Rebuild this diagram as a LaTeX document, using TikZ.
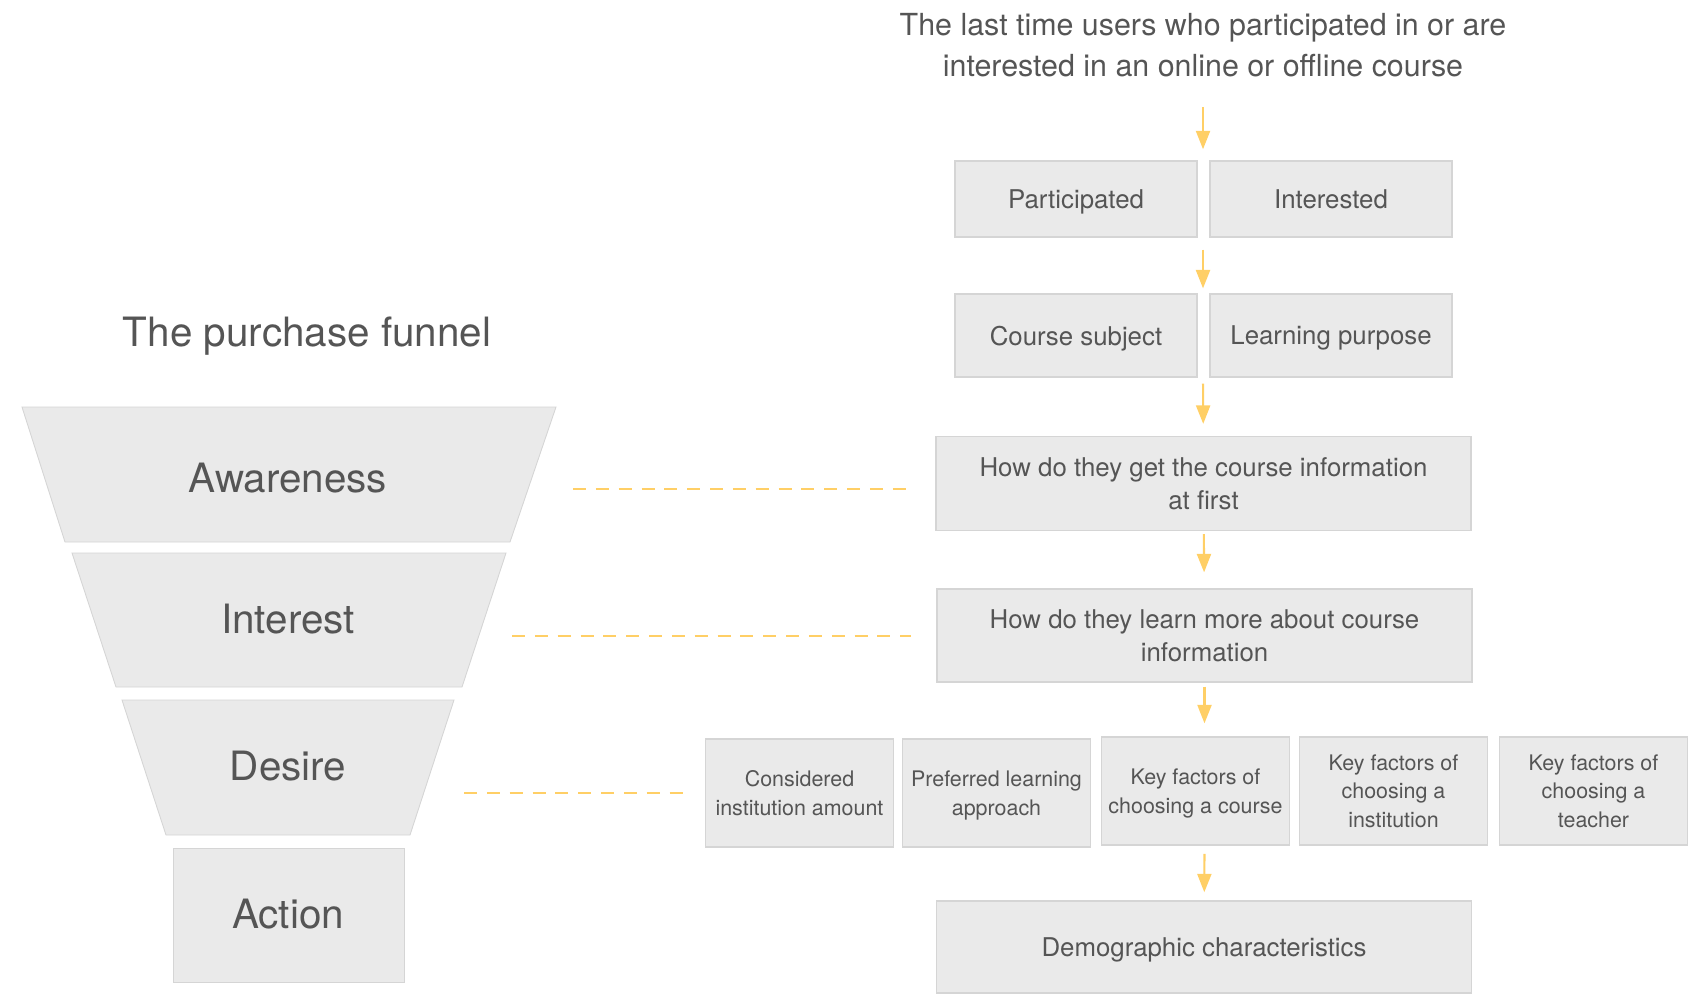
\documentclass[tikz,border=0pt]{standalone}
\usepackage{fontspec}
\setmainfont{TeX Gyre Heros}
\usetikzlibrary{arrows.meta}
\definecolor{boxfill}{HTML}{EAEAEA}
\definecolor{boxline}{HTML}{D5D5D5}
\definecolor{txt}{HTML}{555555}
\definecolor{flow}{HTML}{FFCF66}
\tikzset{
  box/.style={draw=boxline, line width=0.8pt, fill=boxfill, text=txt, inner sep=0pt,
    minimum width=4.84cm, minimum height=1.52cm, align=center, text depth=0pt,
    font=\fontsize{14.7}{18.7}\selectfont},
  wide/.style={box, minimum width=10.7cm, minimum height=1.88cm},
  small/.style={box, minimum width=3.76cm, minimum height=2.16cm,
    font=\fontsize{12.2}{16.2}\selectfont},
  funnel/.style={fill=boxfill, draw=boxline, line width=0.5pt},
  stage/.style={text=txt, inner sep=0pt, font=\fontsize{23}{28}\selectfont},
  arr/.style={draw=flow, line width=1.2pt, -{Triangle[length=10.5pt,width=8pt]}},
  link/.style={draw=flow, line width=1.6pt, dash pattern=on 7.4pt off 5.6pt},
}
\begin{document}
\begin{tikzpicture}[x=0.02cm,y=-0.02cm]
\useasboundingbox (0,0) rectangle (1702,1006);
% funnel
\node[stage] (funnelhead) at (307,336) {The purchase funnel};
\filldraw[funnel] (22,407) -- (556,407) -- (510,542) -- (65,542) -- cycle;
\filldraw[funnel] (72,553) -- (506,553) -- (462,687) -- (116,687) -- cycle;
\filldraw[funnel] (122,700) -- (454,700) -- (410,835) -- (166,835) -- cycle;
\filldraw[funnel] (173,848) rectangle (404,982);
\node[stage] (aware) at (288,478) {Awareness};
\node[stage] (interest) at (288,619) {Interest};
\node[stage] (desire) at (288,766) {Desire};
\node[stage] (action) at (288,914) {Action};
%
% question flow
\node[text=txt, inner sep=0pt, align=center, font=\fontsize{17.3}{23.3}\selectfont]
  (title) at (1203,45) {The last time users who participated in or are\\interested in an online or offline course};
\node[box] (part) at (1076,199) {Participated};
\node[box] (inter) at (1331,199) {Interested};
\node[box, minimum height=1.66cm] (subj) at (1076,335.5) {Course subject};
\node[box, minimum height=1.66cm] (purp) at (1331,335.5) {Learning purpose};
\node[wide] (first) at (1203.5,483.5) {How do they get the course information\\at first};
\node[wide, minimum height=1.86cm] (more) at (1204.5,635.5) {How do they learn more about course\\information};
\node[small] (amount) at (799.5,793) {Considered\\institution amount};
\node[small] (approach) at (996.5,793) {Preferred learning\\approach};
\node[small] (course) at (1195.5,791) {Key factors of\\choosing a course};
\node[small] (inst) at (1393.5,791) {Key factors of\\choosing a\\institution};
\node[small] (teacher) at (1593.5,791) {Key factors of\\choosing a\\teacher};
\node[wide, minimum height=1.84cm] (demo) at (1204,947) {Demographic characteristics};
%
\draw[arr, shorten <=17pt, shorten >=6.3pt] (title) -- (title |- part.north);
\draw[arr, shorten <=6.8pt, shorten >=2.8pt] (title |- part.south) -- (title |- subj.north);
\draw[arr, shorten <=3.4pt, shorten >=6.8pt] (title |- subj.south) -- (first);
\draw[arr, shorten <=1.7pt, shorten >=9.1pt] (first) -- (more);
\draw[arr, shorten <=2.3pt, shorten >=7.4pt] (more) -- (more |- course.north);
\draw[arr, shorten <=4.6pt, shorten >=4.6pt] (more |- course.south) -- (demo);
%
\coordinate (awareR) at (573,489);
\coordinate (interestR) at (512,636);
\coordinate (desireR) at (464,793);
\draw[link, shorten >=14.8pt] (awareR) -- (awareR -| first.west);
\draw[link, shorten >=14.2pt] (interestR) -- (interestR -| more.west);
\draw[link, shorten >=11.7pt] (desireR) -- (desireR -| amount.west);
\end{tikzpicture}
\end{document}
